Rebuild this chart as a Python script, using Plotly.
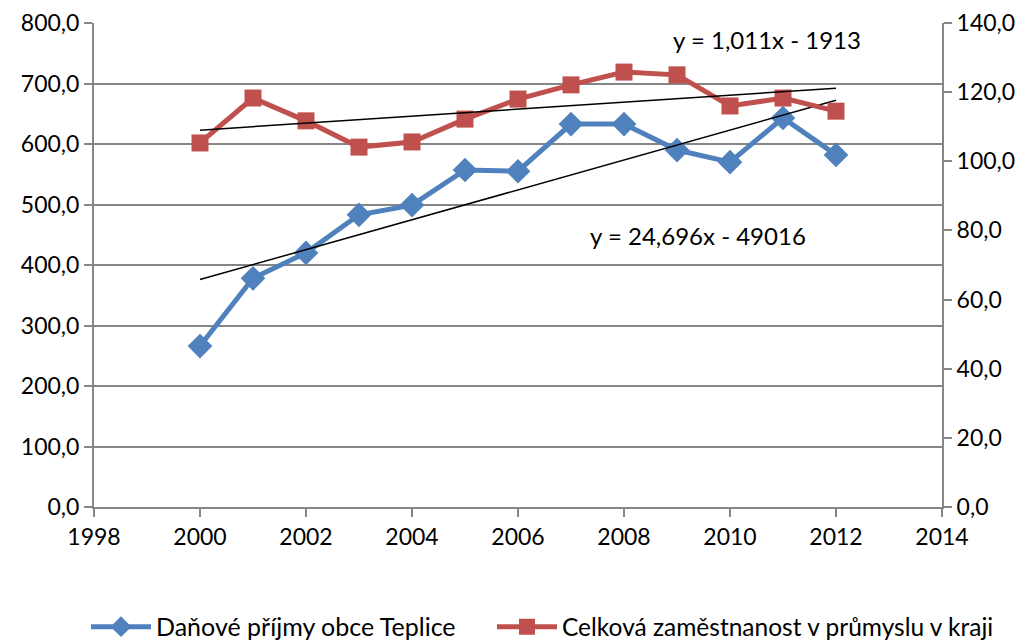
import plotly.graph_objects as go

years = [2000, 2001, 2002, 2003, 2004, 2005, 2006, 2007, 2008, 2009, 2010, 2011, 2012]
dane = [266, 378, 420, 483, 499, 557, 555, 633, 633, 590, 570, 643, 582]
zamestnanost = [105.3, 118.3, 111.7, 104.1, 105.6, 112.2, 118.0, 122.1, 125.8, 125.0, 116.0, 118.3, 114.5]

name_dane = "Daňové příjmy obce Teplice"
name_zam = "Celková zaměstnanost v průmyslu v kraji"

# trendline coefficients as printed on the chart
trend_dane = (24.696, -49016)
trend_zam = (1.011, -1913)
trend_x = [2000, 2012]
label_dane = "y = 24,696x - 49016"
label_zam = "y = 1,011x - 1913"

blue = "#4F81BD"
red = "#C0504D"
grid = "#868686"
font = "Lato"

fig = go.Figure()
fig.add_trace(go.Scatter(x=years, y=dane, name=name_dane, mode="lines+markers",
                         line=dict(color=blue, width=5), legend="legend",
                         marker=dict(symbol="diamond", size=19, color=blue)))
fig.add_trace(go.Scatter(x=years, y=zamestnanost, name=name_zam, mode="lines+markers",
                         yaxis="y2", legend="legend2",
                         line=dict(color=red, width=5),
                         marker=dict(symbol="square", size=17, color=red)))
fig.add_trace(go.Scatter(x=trend_x, y=[trend_dane[0] * x + trend_dane[1] for x in trend_x],
                         mode="lines", line=dict(color="black", width=1.5), showlegend=False))
fig.add_trace(go.Scatter(x=trend_x, y=[trend_zam[0] * x + trend_zam[1] for x in trend_x],
                         mode="lines", yaxis="y2", line=dict(color="black", width=1.5), showlegend=False))

fig.add_annotation(x=2009.4, y=448, xref="x", yref="y", text=label_dane,
                   showarrow=False, font=dict(size=24, color="black", family=font),
                   xanchor="center", yanchor="middle")
fig.add_annotation(x=2010.7, y=135.1, xref="x", yref="y2", text=label_zam,
                   showarrow=False, font=dict(size=24, color="black", family=font),
                   xanchor="center", yanchor="middle")

axis_common = dict(showline=True, linecolor=grid, linewidth=2, ticks="outside",
                   ticklen=8, tickcolor=grid, tickwidth=2, automargin=False,
                   tickfont=dict(size=23, color="black", family=font))

legend_common = dict(orientation="h", xanchor="left", xref="container",
                     y=0.022, yanchor="middle", yref="container",
                     itemwidth=60, borderwidth=0, bgcolor="rgba(0,0,0,0)")

fig.update_layout(
    width=1031, height=641,
    paper_bgcolor="white", plot_bgcolor="white",
    margin=dict(l=94, r=89, t=23, b=134, autoexpand=False),
    separators=", ",
    font=dict(family=font, color="black"),
    xaxis=dict(range=[1998, 2014], dtick=2, tick0=1998, showgrid=False, zeroline=False,
               **axis_common),
    yaxis=dict(range=[0, 800], dtick=100, tickformat=".1f", showgrid=True, gridcolor=grid,
               gridwidth=1.5, zeroline=False, **axis_common),
    yaxis2=dict(range=[0, 140], dtick=20, tickformat=".1f", overlaying="y", side="right",
                showgrid=False, zeroline=False, **axis_common),
    legend=dict(x=86 / 1031, font=dict(size=25, family=font, color="black"), **legend_common),
    legend2=dict(x=492 / 1031, font=dict(size=24.5, family=font, color="black"), **legend_common),
)

fig.write_html("out.html", config={"displayModeBar": False},
               post_script="document.body.style.margin='0';document.body.style.padding='0';")
